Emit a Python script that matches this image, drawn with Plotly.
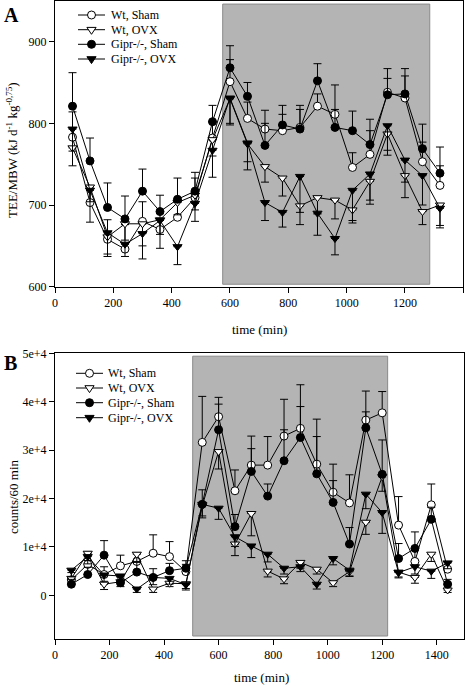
import plotly.graph_objects as go

FONT = "Liberation Serif, Times New Roman, serif"
W, H = 475, 686

# ---------------- data ----------------
time_A = [60, 120, 180, 240, 300, 360, 420, 480, 540, 600, 660, 720,
          780, 840, 900, 960, 1020, 1080, 1140, 1200, 1260, 1320]
time_B = [60, 120, 180, 240, 300, 360, 420, 480, 540, 600, 660, 720,
          780, 840, 900, 960, 1020, 1080, 1140, 1200, 1260, 1320, 1380, 1440]

series_names = ["Wt, Sham", "Wt, OVX", "Gipr-/-, Sham", "Gipr-/-, OVX"]

# Panel A: TEE/MBW
wt_sham_A = [783, 703, 658, 646, 680, 670, 685, 709, 782, 851, 806, 793,
             791, 795, 821, 811, 746, 762, 838, 831, 753, 724]
wt_ovx_A = [770, 722, 661, 677, 677, 682, 703, 712, 780, 830, 775, 747,
            733, 699, 709, 706, 694, 729, 787, 736, 692, 700]
gipr_sham_A = [821, 754, 697, 683, 717, 692, 707, 717, 802, 868, 833, 773,
               798, 793, 852, 795, 791, 774, 835, 836, 769, 739]
gipr_ovx_A = [793, 718, 666, 652, 665, 681, 649, 702, 767, 831, 776, 703,
              691, 735, 690, 659, 718, 738, 797, 755, 736, 696]

wt_sham_err_A = [31, 21, 24, 30, 24, 20, 19, 24, 20, 27, 20, 23,
                 20, 22, 15, 36, 18, 29, 29, 27, 24, 24]
wt_ovx_err_A = [22, 18, 21, 20, 27, 18, 15, 18, 20, 30, 22, 19,
                22, 8, 20, 23, 13, 28, 20, 27, 16, 25]
gipr_sham_err_A = [41, 28, 30, 28, 27, 20, 26, 23, 20, 27, 17, 27,
                   24, 29, 21, 22, 24, 31, 20, 31, 30, 32]
gipr_ovx_err_A = [27, 39, 29, 15, 31, 34, 22, 22, 33, 33, 33, 22,
                  18, 59, 27, 20, 40, 32, 36, 27, 36, 24]

# Panel B: counts / 60 min
wt_sham_B = [3200, 6400, 4300, 6100, 7000, 8700, 8000, 4900, 31600, 36900, 21600, 26900,
             26900, 32900, 34500, 27100, 21300, 19100, 36200, 37700, 14500, 7000, 18700, 5400]
wt_ovx_B = [3500, 8700, 2300, 2800, 8500, 1300, 2500, 2400, 18500, 29700, 10600, 16900,
            5000, 3400, 6800, 5400, 2600, 4900, 15100, 24500, 4800, 3700, 8500, 1100]
gipr_sham_B = [2300, 4300, 8300, 2600, 4800, 3700, 5100, 5600, 18800, 34200, 14200, 25600,
               20500, 27800, 32600, 25100, 19200, 10600, 34600, 25000, 7600, 9700, 15700, 2300]
gipr_ovx_B = [5200, 8000, 4200, 4000, 1300, 3700, 3500, 2200, 18800, 18000, 12100, 10200,
              8500, 5600, 5900, 2300, 7600, 5200, 20900, 17100, 4700, 5900, 5000, 6700]

wt_sham_err_B = [1500, 2600, 1600, 2200, 1800, 3800, 3100, 1500, 9500, 4000, 4300, 6000,
                 5900, 7600, 9000, 9300, 5800, 5800, 6000, 4400, 5900, 2500, 4300, 1500]
wt_ovx_err_B = [1000, 1500, 1100, 1000, 1500, 700, 700, 1000, 2500, 3600, 2400, 4600,
                1200, 1000, 1200, 1000, 800, 1000, 2500, 3000, 1000, 1200, 1500, 500]
gipr_sham_err_B = [1000, 1500, 3000, 1200, 2000, 1800, 1500, 1550, 3000, 5300, 2500, 4700,
                   2500, 6400, 6400, 7700, 4500, 3400, 3300, 7100, 3100, 3400, 2500, 1000]
gipr_ovx_err_B = [1400, 1500, 1300, 1200, 700, 1500, 1200, 1100, 2400, 2300, 2000, 2400,
                  1600, 1200, 1000, 1000, 1300, 1200, 3000, 4300, 1100, 1500, 1500, 1200]

# dark-phase shading (min) and y extents
shade_A = (575, 1285, 603, 946)
shade_B = (505, 1220, -8400, 49400)

xticks_A = [0, 200, 400, 600, 800, 1000, 1200, 1400]
yticks_A = [600, 700, 800, 900]
xticks_B = [0, 200, 400, 600, 800, 1000, 1200, 1400]
yticks_B = [0, 10000, 20000, 30000, 40000, 50000]
yticktext_B = ["0", "1e+4", "2e+4", "3e+4", "4e+4", "5e+4"]

# ---------------- helpers ----------------
def px_x(p):
    return p / W

def px_y(p):
    return 1 - p / H

styles = [
    dict(symbol="circle", fill="white", up=True),
    dict(symbol="triangle-down", fill="white", up=False),
    dict(symbol="circle", fill="black", up=True),
    dict(symbol="triangle-down", fill="black", up=False),
]

fig = go.Figure()

def add_panel(times, values, errors, xa, ya):
    for name, vals, errs, st in zip(series_names, values, errors, styles):
        zeros = [0] * len(errs)
        err = dict(type="data", symmetric=False,
                   array=errs if st["up"] else zeros,
                   arrayminus=zeros if st["up"] else errs,
                   color="black", thickness=1, width=4)
        fig.add_trace(go.Scatter(
            x=times, y=vals, name=name, mode="lines+markers",
            xaxis=xa, yaxis=ya,
            line=dict(color="black", width=1),
            marker=dict(symbol=st["symbol"], size=8, color=st["fill"],
                        line=dict(color="black", width=1)),
            error_y=err, showlegend=False,
        ))

add_panel(time_A, [wt_sham_A, wt_ovx_A, gipr_sham_A, gipr_ovx_A],
          [wt_sham_err_A, wt_ovx_err_A, gipr_sham_err_A, gipr_ovx_err_A], "x", "y")
add_panel(time_B, [wt_sham_B, wt_ovx_B, gipr_sham_B, gipr_ovx_B],
          [wt_sham_err_B, wt_ovx_err_B, gipr_sham_err_B, gipr_ovx_err_B], "x2", "y2")

for (x0, x1, y0, y1), xr, yr in [(shade_A, "x", "y"), (shade_B, "x2", "y2")]:
    fig.add_shape(type="rect", xref=xr, yref=yr, x0=x0, x1=x1, y0=y0, y1=y1,
                  fillcolor="#b4b4b4", line=dict(color="#8a8a8a", width=1),
                  layer="below")

# ---------------- legends (key drawn as decoration) ----------------
def add_legend(x_line0, x_line1, x_text, ys):
    cx = (x_line0 + x_line1) / 2
    for name, st, yy in zip(series_names, styles, ys):
        fig.add_shape(type="line", xref="paper", yref="paper",
                      x0=px_x(x_line0), x1=px_x(x_line1), y0=px_y(yy), y1=px_y(yy),
                      line=dict(color="black", width=1))
        if st["symbol"] == "circle":
            r = 4
            fig.add_shape(type="circle", xref="paper", yref="paper",
                          x0=px_x(cx - r), x1=px_x(cx + r), y0=px_y(yy + r), y1=px_y(yy - r),
                          fillcolor=st["fill"], line=dict(color="black", width=1))
        else:
            rt, rs, r = 4.6, 2.3, 4.6
            path = (f"M{px_x(cx - rt)},{px_y(yy - rs)} L{px_x(cx + rt)},{px_y(yy - rs)} "
                    f"L{px_x(cx)},{px_y(yy + r)} Z")
            fig.add_shape(type="path", xref="paper", yref="paper", path=path,
                          fillcolor=st["fill"], line=dict(color="black", width=1))
        fig.add_annotation(xref="paper", yref="paper", showarrow=False,
                           text=name, x=px_x(x_text), y=px_y(yy),
                           xanchor="left", yanchor="middle",
                           font=dict(family=FONT, size=12, color="black"))

add_legend(78, 105, 109, [15, 29.7, 44.3, 59])
add_legend(76, 103, 106, [373.3, 388, 402.7, 417.7])

axis_common = dict(showgrid=False, zeroline=False, showline=True, linecolor="black",
                   linewidth=1, mirror=True, ticks="outside", ticklen=5,
                   tickcolor="black", tickfont=dict(family=FONT, size=12, color="black"))

fig.update_layout(
    width=W, height=H, margin=dict(l=0, r=0, t=0, b=0, autoexpand=False),
    paper_bgcolor="white", plot_bgcolor="white", showlegend=False,
    font=dict(family=FONT, size=12, color="black"),
    xaxis=dict(domain=[px_x(55), px_x(463.3)], range=[0, 1400], anchor="y",
               tickvals=xticks_A, **axis_common),
    yaxis=dict(domain=[px_y(286.7), px_y(0.8)], range=[600, 950], anchor="x",
               tickvals=yticks_A, **axis_common),
    xaxis2=dict(domain=[px_x(55), px_x(464)], range=[0, 1500], anchor="y2",
                tickvals=xticks_B, **axis_common),
    yaxis2=dict(domain=[px_y(638.9), px_y(353.3)], range=[-9000, 50000], anchor="x2",
                tickvals=yticks_B, ticktext=yticktext_B, **axis_common),
)

annots = [
    dict(text="<b>A</b>", x=px_x(2), y=px_y(2), xanchor="left", yanchor="top",
         font=dict(family=FONT, size=20)),
    dict(text="<b>B</b>", x=px_x(2), y=px_y(350), xanchor="left", yanchor="top",
         font=dict(family=FONT, size=20)),
    dict(text="TEE/MBW (kJ d<sup>-1</sup> kg<sup>-0,75</sup>)", x=px_x(12), y=px_y(150),
         textangle=-90, xanchor="center", yanchor="middle", font=dict(family=FONT, size=13)),
    dict(text="counts/60 min", x=px_x(13), y=px_y(497),
         textangle=-90, xanchor="center", yanchor="middle", font=dict(family=FONT, size=13)),
    dict(text="time (min)", x=px_x(259), y=px_y(329), xanchor="center", yanchor="middle",
         font=dict(family=FONT, size=13)),
    dict(text="time (min)", x=px_x(261), y=px_y(677), xanchor="center", yanchor="middle",
         font=dict(family=FONT, size=13)),
]
for a in annots:
    fig.add_annotation(xref="paper", yref="paper", showarrow=False, **a)

fig.write_html("out.html", config={"displayModeBar": False},
               post_script="document.body.style.margin='0px';")
